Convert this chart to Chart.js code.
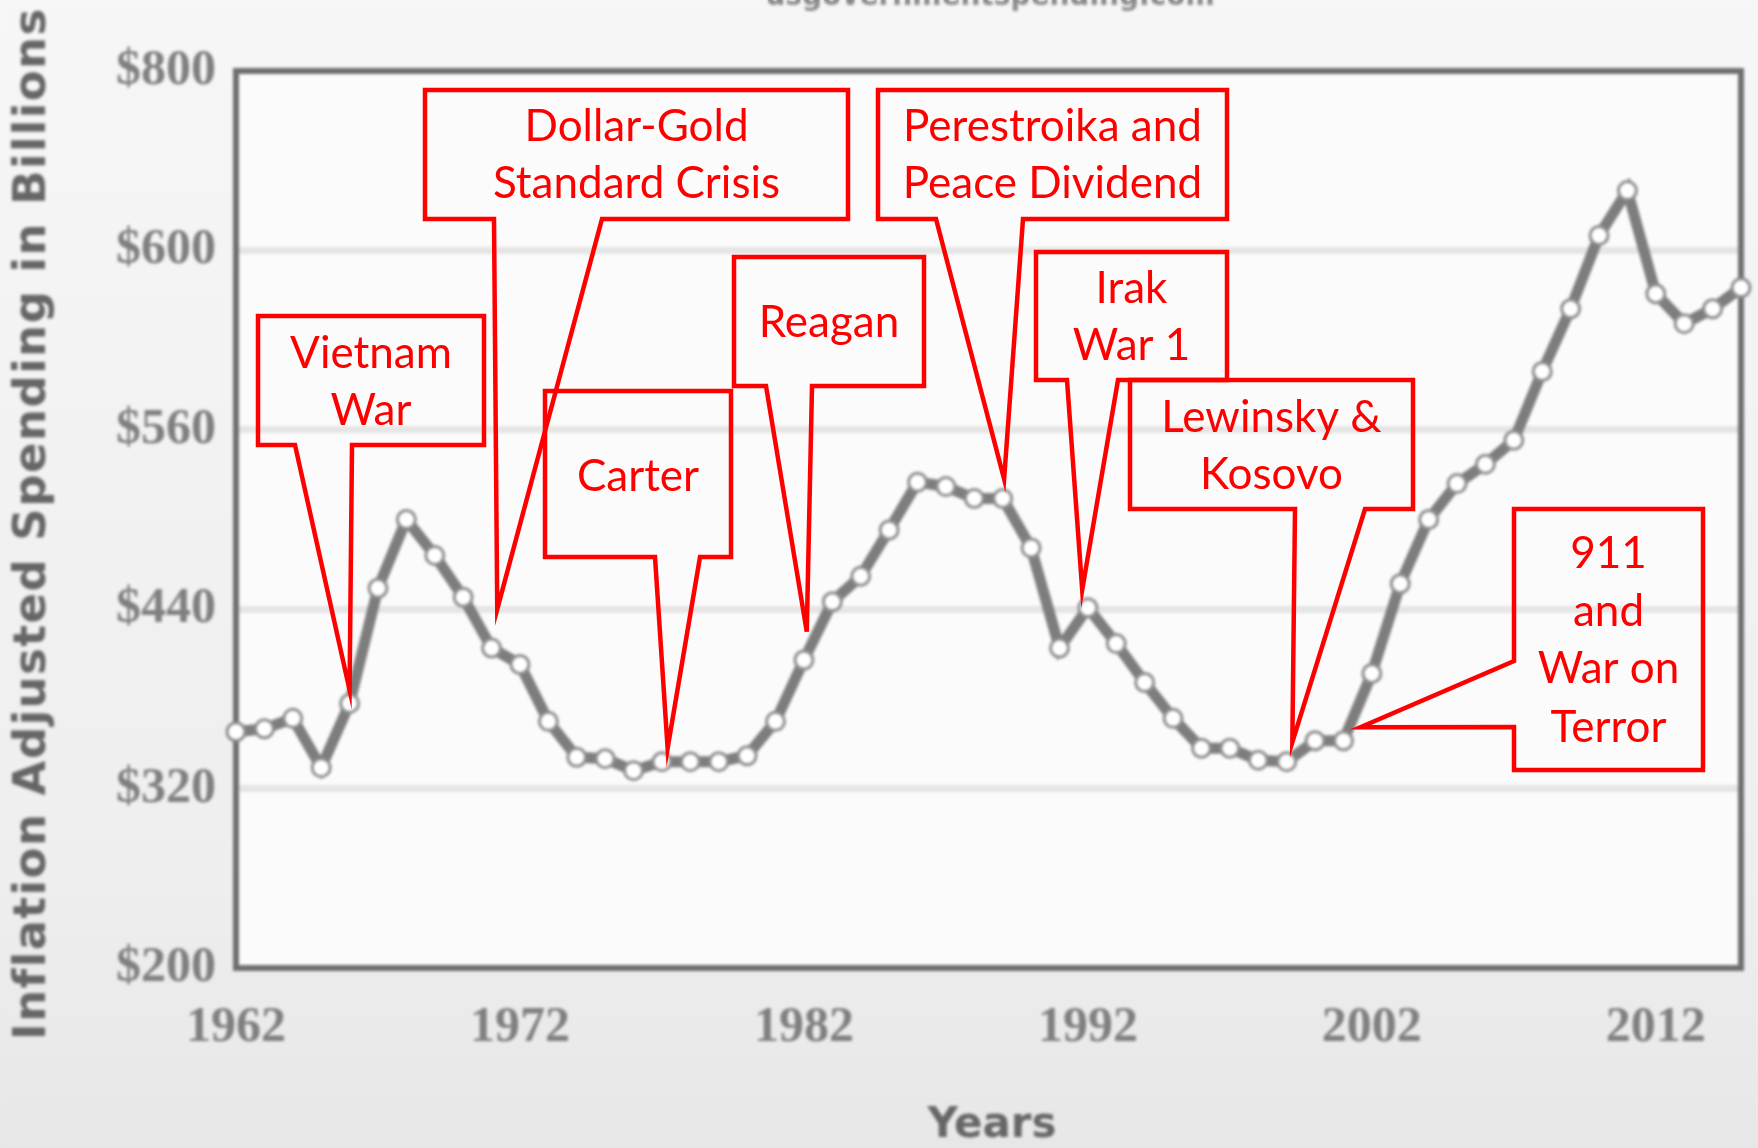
<!DOCTYPE html>
<html>
<head>
<meta charset="utf-8">
<title>Inflation Adjusted Spending</title>
<script src="https://cdn.jsdelivr.net/npm/chart.js@4.4.1/dist/chart.umd.min.js"></script>
<style>
  html, body { margin: 0; padding: 0; background: #f2f2f2; }
  #wrap { width: 1758px; height: 1148px; }
</style>
</head>
<body>
<div id="wrap"><canvas id="spendChart" width="1758" height="1148"></canvas></div>
<script>
// spending per year, billions of dollars (inflation adjusted)
var years = [1962, 1963, 1964, 1965, 1966, 1967, 1968, 1969, 1970, 1971,
             1972, 1973, 1974, 1975, 1976, 1977, 1978, 1979, 1980, 1981,
             1982, 1983, 1984, 1985, 1986, 1987, 1988, 1989, 1990, 1991,
             1992, 1993, 1994, 1995, 1996, 1997, 1998, 1999, 2000, 2001,
             2002, 2003, 2004, 2005, 2006, 2007, 2008, 2009, 2010, 2011,
             2012, 2013, 2014, 2015];
var spending = [358, 360, 367, 334, 377, 454, 500, 476, 448, 414,
                403, 365, 341, 340, 332, 338, 338, 338, 342, 365,
                406, 445, 462, 493, 525, 522, 514, 514, 481, 414,
                441, 417, 391, 367, 347, 347, 339, 338, 352, 352,
                397, 457, 500, 524, 537, 553, 599, 641, 690, 720,
                651, 631, 641, 655];

var yearTicks = [1962, 1972, 1982, 1992, 2002, 2012];
var valueTicks = ['$200', '$320', '$440', '$560', '$600', '$800'];

// events and the point of the curve each one refers to
var eventNames = [['Vietnam', 'War'], ['Dollar-Gold', 'Standard Crisis'], ['Carter'], ['Reagan'],
                  ['Perestroika and', 'Peace Dividend'], ['Irak', 'War 1'], ['Lewinsky &', 'Kosovo'],
                  ['911', 'and', 'War on', 'Terror']];
var eventYears = [1966, 1971.2, 1977.2, 1982.1, 1989.05, 1991.8, 1999.2, 2001.6];
var eventValues = [386, 440, 347, 425, 527, 453, 351, 361];

// callout boxes (canvas px): box, pointer base on one side, text line centres
var boxes = [
  { x0: 258, y0: 316, x1: 484, y1: 445, side: 'bottom', a: 295, b: 352, lines: [354, 411] },
  { x0: 425, y0: 90, x1: 848, y1: 219, side: 'bottom', a: 494, b: 602, lines: [127, 184] },
  { x0: 545, y0: 391, x1: 731, y1: 557, side: 'bottom', a: 655, b: 700, lines: [477] },
  { x0: 734, y0: 257, x1: 924, y1: 386, side: 'bottom', a: 766, b: 812, lines: [323] },
  { x0: 878, y0: 90, x1: 1227, y1: 219, side: 'bottom', a: 936, b: 1023, lines: [127, 184] },
  { x0: 1036, y0: 252, x1: 1227, y1: 380, side: 'bottom', a: 1067, b: 1118, lines: [289, 346] },
  { x0: 1130, y0: 380, x1: 1413, y1: 509, side: 'bottom', a: 1295, b: 1365, lines: [418, 475] },
  { x0: 1514, y0: 509, x1: 1703, y1: 770, side: 'left', a: 661, b: 727, lines: [554, 612, 669, 728] }
];

var points = years.map(function (y, i) { return { x: y, y: spending[i] }; });

var backdrop = {
  id: 'backdrop',
  beforeDraw: function (chart) {
    var c = chart.ctx, a = chart.chartArea;
    var g = c.createLinearGradient(0, 0, 0, chart.height);
    g.addColorStop(0, '#f6f6f6');
    g.addColorStop(0.75, '#eeeeee');
    g.addColorStop(1, '#e7e7e7');
    c.save();
    c.fillStyle = g;
    c.fillRect(0, 0, chart.width, chart.height);
    c.fillStyle = '#fbfbfb';
    c.fillRect(a.left, a.top, a.right - a.left, a.bottom - a.top);
    c.restore();
  },
  beforeDatasetsDraw: function (chart) {
    var c = chart.ctx, a = chart.chartArea;
    c.save();
    c.strokeStyle = '#6e6e6e';
    c.lineWidth = 6;
    c.strokeRect(a.left, a.top, a.right - a.left, a.bottom - a.top);
    c.restore();
  },
  afterDraw: function (chart) {
    var c = chart.ctx;
    c.save();
    c.fillStyle = '#8a8a8a';
    c.textAlign = 'center';
    c.font = 'bold 28px "DejaVu Sans"';
    c.fillText('usgovernmentspending.com', 990, 5);

    c.fillStyle = '#666666';
    c.font = 'bold 42px "DejaVu Sans"';
    c.textBaseline = 'middle';
    c.fillText('Years', 992, 1126);
    c.translate(33, 467 * 1.1212);
    c.rotate(-Math.PI / 2);
    c.font = 'bold 45px "DejaVu Sans"';
    c.letterSpacing = '1.5px';
    c.fillText('Inflation Adjusted Spending in Billions', 0, 0);
    c.restore();

    // the underlying chart is a soft, low resolution capture
    var tmp = document.createElement('canvas');
    tmp.width = chart.width;
    tmp.height = chart.height;
    tmp.getContext('2d').drawImage(chart.canvas, 0, 0);
    c.save();
    c.filter = 'blur(1.6px)';
    c.drawImage(tmp, 0, 0);
    c.restore();
  }
};

var callouts = {
  id: 'callouts',
  afterDraw: function (chart) {
    var c = chart.ctx;
    var xs = chart.scales.x, ys = chart.scales.y;
    c.save();
    c.strokeStyle = '#ff0000';
    c.fillStyle = '#ff0000';
    c.lineWidth = 4.5;
    c.lineJoin = 'miter';
    c.font = '44px Lato';
    c.textAlign = 'center';
    c.textBaseline = 'middle';
    boxes.forEach(function (b, i) {
      var tx = xs.getPixelForValue(eventYears[i]);
      var ty = ys.getPixelForValue(eventValues[i]);
      c.beginPath();
      if (b.side === 'bottom') {
        c.moveTo(b.x0, b.y0);
        c.lineTo(b.x1, b.y0);
        c.lineTo(b.x1, b.y1);
        c.lineTo(b.b, b.y1);
        c.lineTo(tx, ty);
        c.lineTo(b.a, b.y1);
        c.lineTo(b.x0, b.y1);
      } else {
        c.moveTo(b.x0, b.y0);
        c.lineTo(b.x1, b.y0);
        c.lineTo(b.x1, b.y1);
        c.lineTo(b.x0, b.y1);
        c.lineTo(b.x0, b.b);
        c.lineTo(tx, ty);
        c.lineTo(b.x0, b.a);
      }
      c.closePath();
      c.stroke();
      var cx = (b.x0 + b.x1) / 2;
      eventNames[i].forEach(function (t, k) {
        c.fillText(t, cx, b.lines[k]);
      });
    });
    c.restore();
  }
};

new Chart(document.getElementById('spendChart'), {
  type: 'line',
  data: {
    datasets: [{
      data: points,
      borderColor: '#7d7d7d',
      borderWidth: 11,
      pointRadius: 9,
      pointBackgroundColor: '#ffffff',
      pointBorderColor: '#8c8c8c',
      pointBorderWidth: 3,
      tension: 0,
      clip: false
    }]
  },
  options: {
    responsive: false,
    animation: false,
    devicePixelRatio: 1,
    layout: { padding: { top: 71, right: 17, left: 0, bottom: 0 } },
    plugins: { legend: { display: false }, tooltip: { enabled: false } },
    scales: {
      x: {
        type: 'linear',
        min: 1962,
        max: 2015,
        afterBuildTicks: function (axis) {
          axis.ticks = yearTicks.map(function (v) { return { value: v }; });
        },
        afterFit: function (axis) { axis.height = 180; },
        grid: { display: false, drawTicks: false },
        border: { display: false },
        ticks: {
          autoSkip: false,
          maxRotation: 0,
          padding: 30,
          color: '#7f7f7f',
          font: { family: 'Liberation Serif', size: 50, weight: 'bold' },
          callback: function (v) { return String(v); }
        }
      },
      y: {
        min: 200,
        max: 800,
        afterFit: function (axis) { axis.width = 236; },
        grid: {
          drawTicks: false,
          lineWidth: 7,
          color: function (ctx) {
            var v = ctx.tick ? ctx.tick.value : 0;
            return (v === 200 || v === 800) ? 'rgba(0,0,0,0)' : '#e5e5e5';
          }
        },
        border: { display: false },
        ticks: {
          stepSize: 120,
          padding: 20,
          color: '#7f7f7f',
          font: { family: 'Liberation Serif', size: 50, weight: 'bold' },
          callback: function (v) { return valueTicks[Math.round((v - 200) / 120)]; }
        }
      }
    }
  },
  plugins: [backdrop, callouts]
});
</script>
</body>
</html>
